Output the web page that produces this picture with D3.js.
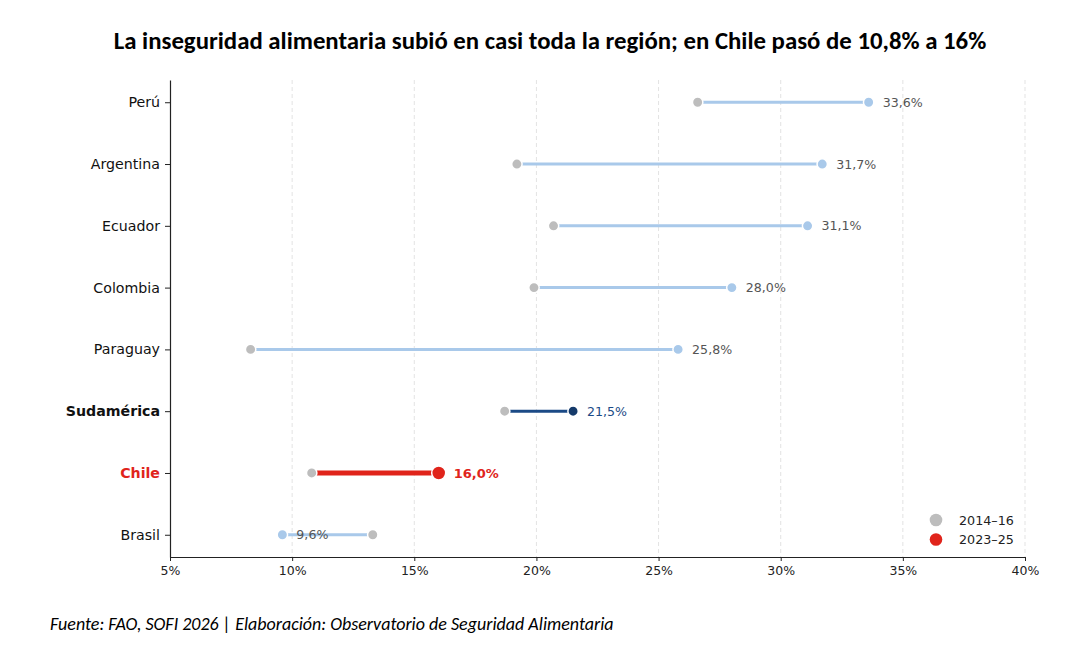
<!DOCTYPE html>
<html><head><meta charset="utf-8">
<script src="https://cdn.jsdelivr.net/npm/d3@7"></script>
<style>
html,body{margin:0;padding:0;background:#fff;}
svg{display:block;}
</style></head>
<body>
<svg id="chart" width="1074" height="658"></svg>
<script>
const countries = ["Perú","Argentina","Ecuador","Colombia","Paraguay","Sudamérica","Chile","Brasil"];
const v2014 = [26.6,19.2,20.7,19.9,8.3,18.7,10.8,13.3];
const v2023 = [33.6,31.7,31.1,28.0,25.8,21.5,16.0,9.6];
const xTicks = [5,10,15,20,25,30,35,40];
const legendLabels = ["2014–16","2023–25"];

(function(){
const svg = d3.select("#chart");
const pL=170, pR=1025, pT=80, pB=557;
const x = d3.scaleLinear().domain([5,40]).range([pL,pR]);
const y = d3.scalePoint().domain(countries).range([pT,pB]).padding(0.36);

const font = "DejaVu Sans, sans-serif";
const grey="#bdbdbd", light="#a9c9ea", navy="#1b4a86", red="#e0241b";

// title
svg.append("text").attr("x",550).attr("y",49).attr("text-anchor","middle")
  .attr("font-family","Carlito, Lato, 'Open Sans', sans-serif").attr("font-weight","bold")
  .attr("font-size",24.8).attr("fill","#000")
  .text("La inseguridad alimentaria subió en casi toda la región; en Chile pasó de 10,8% a 16%");

// grid
svg.append("g").selectAll("line").data(xTicks.filter(d=>d>5)).join("line")
  .attr("x1",d=>x(d)).attr("x2",d=>x(d)).attr("y1",pT).attr("y2",pB)
  .attr("stroke","#e3e3e3").attr("stroke-width",1).attr("stroke-dasharray","4,3");

// x axis
const xa = svg.append("g").attr("transform",`translate(0,${pB})`)
  .call(d3.axisBottom(x).tickValues(xTicks).tickFormat(d=>d+"%").tickSize(4).tickSizeOuter(0));
xa.select(".domain").attr("stroke","#222").attr("stroke-width",1.2);
xa.selectAll(".tick line").attr("stroke","#222");
xa.selectAll("text").attr("font-family",font).attr("font-size",12.5).attr("fill","#222").attr("dy","0.9em");

// y axis
const ya = svg.append("g").attr("transform",`translate(${pL},0)`)
  .call(d3.axisLeft(y).tickSize(5).tickSizeOuter(0));
ya.select(".domain").attr("stroke","#222").attr("stroke-width",1.2);
ya.selectAll(".tick line").attr("stroke","#222");
ya.selectAll("text").attr("font-family",font).attr("font-size",14.2).attr("x",-10)
  .attr("fill",d=>d==="Chile"?red:"#111")
  .attr("font-weight",d=>(d==="Chile"||d==="Sudamérica")?"bold":"normal");

const rows = countries.map((c,i)=>({c,a:v2014[i],b:v2023[i]}));
const lineColor = d=>d.c==="Chile"?red:(d.c==="Sudamérica"?navy:light);
const dotColor = d=>d.c==="Chile"?red:(d.c==="Sudamérica"?"#153a6a":light);

const g = svg.append("g");
g.selectAll("line.seg").data(rows).join("line")
  .attr("x1",d=>x(d.a)).attr("x2",d=>x(d.b)).attr("y1",d=>y(d.c)).attr("y2",d=>y(d.c))
  .attr("stroke",lineColor).attr("stroke-width",d=>d.c==="Chile"?5:3);
g.selectAll("circle.a").data(rows).join("circle")
  .attr("cx",d=>x(d.a)).attr("cy",d=>y(d.c)).attr("r",5.2)
  .attr("fill",grey).attr("stroke","#fff").attr("stroke-width",1.5);
g.selectAll("circle.b").data(rows).join("circle")
  .attr("cx",d=>x(d.b)).attr("cy",d=>y(d.c)).attr("r",d=>d.c==="Chile"?7:5.2)
  .attr("fill",dotColor).attr("stroke","#fff").attr("stroke-width",1.5);
g.selectAll("text.lab").data(rows).join("text")
  .attr("x",d=>x(d.b)+(d.c==="Chile"?15:14)).attr("y",d=>y(d.c)).attr("dy","0.36em")
  .attr("font-family",font).attr("font-size",d=>d.c==="Chile"?13:12.6)
  .attr("font-weight",d=>d.c==="Chile"?"bold":"normal")
  .attr("fill",d=>d.c==="Chile"?red:(d.c==="Sudamérica"?navy:"#555"))
  .text(d=>d.b.toFixed(1).replace(".",",")+"%");

// legend
const lg = svg.append("g");
const lc=[grey,red];
legendLabels.forEach((t,i)=>{
  lg.append("circle").attr("cx",936).attr("cy",520+i*19.5).attr("r",6.3).attr("fill",lc[i]);
  lg.append("text").attr("x",959).attr("y",520+i*19.5).attr("dy","0.36em")
    .attr("font-family",font).attr("font-size",12.7).attr("fill","#222").text(t);
});

// source
svg.append("text").attr("x",50).attr("y",630)
  .attr("font-family","Carlito, Lato, 'Open Sans', sans-serif").attr("font-style","italic")
  .attr("font-size",18).attr("fill","#000")
  .text("Fuente: FAO, SOFI 2026 | Elaboración: Observatorio de Seguridad Alimentaria");
})();
</script>
</body></html>
